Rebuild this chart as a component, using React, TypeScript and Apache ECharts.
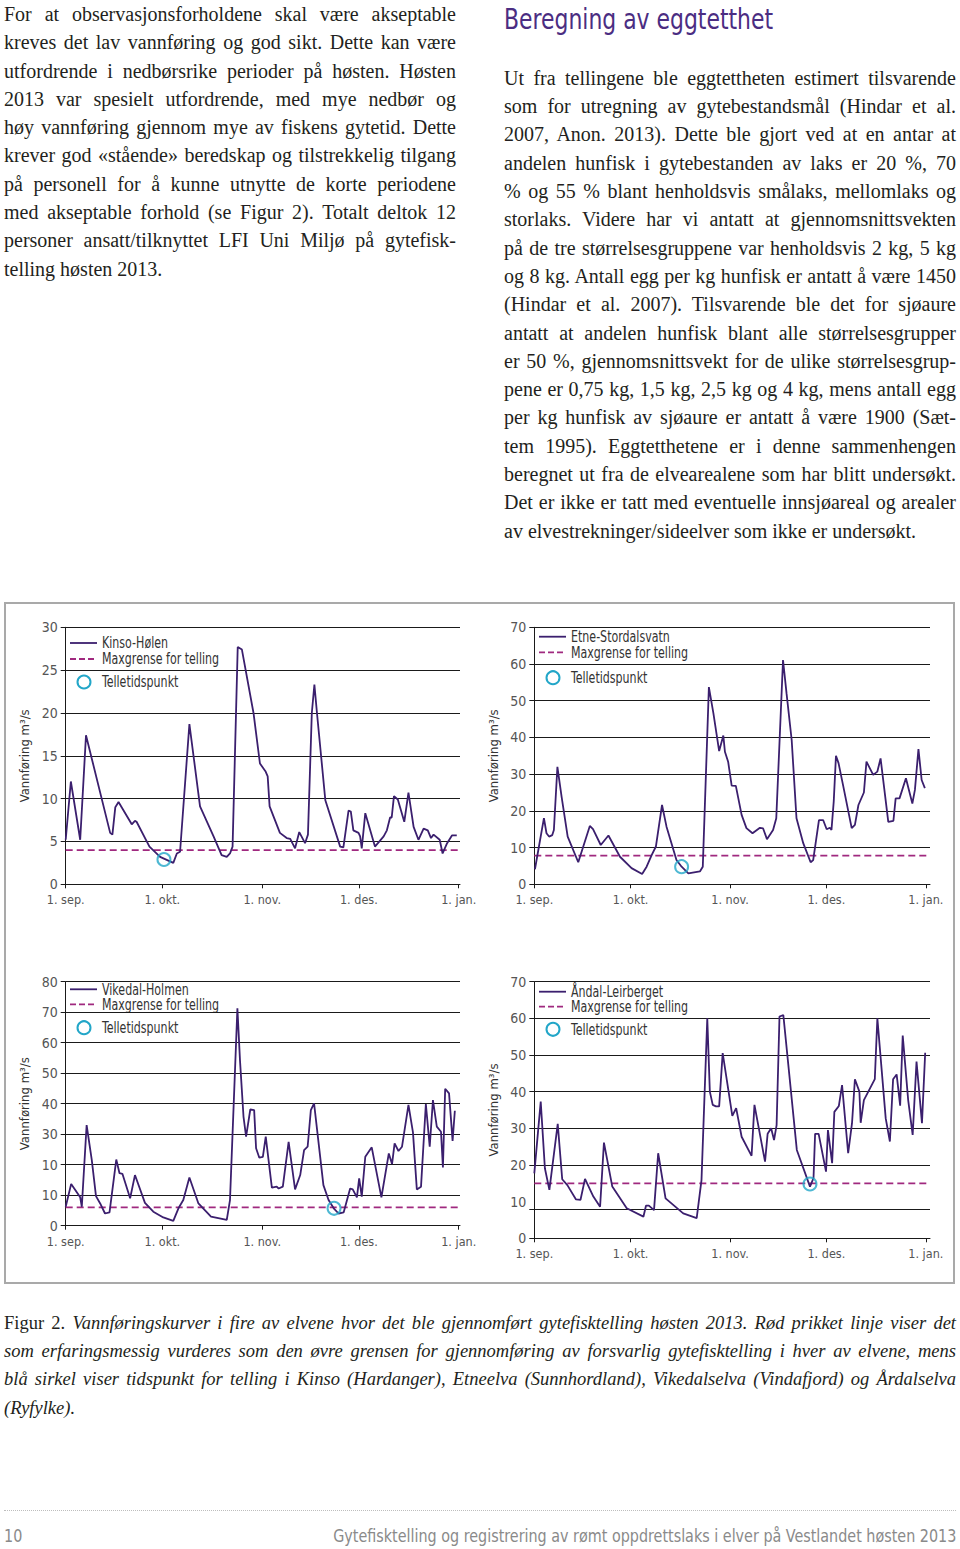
import React, { useEffect, useRef } from "react";
import * as echarts from "echarts";

// ---------- DATA ----------
const monthTickDays = [0, 30, 61, 91, 122];
const monthTickLabels = ["1. sep.", "1. okt.", "1. nov.", "1. des.", "1. jan."];

const riverNames = ["Kinso-Hølen", "Etne-Stordalsvatn", "Vikedal-Holmen", "Åndal-Leirberget"];
const limitName = "Maxgrense for telling";
const countName = "Telletidspunkt";
const yAxisTitle = "Vannføring m³/s";

const limitFlows = [4, 7.8, 6, 15];
const countDays = [30.5, 45.9, 83.3, 85.9];
const countFlows = [2.9, 4.8, 5.7, 14.8];

const kinsoDays = [0, 1.6, 4.5, 6.3, 13.8, 14.5, 15.4, 16.4, 20.5, 21.5, 22, 26, 29.3, 33.4, 34.5, 35.5, 38.4, 41.7, 45.9, 48.4, 50, 51, 51.8, 53.4, 54.7, 58.3, 60.3, 62, 62.7, 63.3, 66.5, 68.6, 69.7, 71.2, 72.5, 74.3, 75.2, 76.4, 77.2, 78, 80.6, 85.2, 86.2, 87.8, 88.5, 89.3, 90.9, 91.4, 91.9, 93, 96, 98.7, 99.7, 100.7, 101.2, 101.9, 103.1, 105.1, 106.4, 108, 109.5, 111.1, 112.4, 113.4, 114.2, 116.1, 117, 118.4, 119.9, 121.4];
const kinsoFlows = [5.2, 12, 5.2, 17.4, 6, 5.8, 9, 9.6, 7, 7.4, 7.3, 4.4, 3.2, 2.5, 3.6, 3.8, 18.7, 9.1, 5.6, 3.4, 3.2, 3.6, 4.4, 27.7, 27.4, 20, 14.1, 13.2, 12.6, 9.1, 6, 5.4, 5.3, 4.2, 6.1, 4.8, 5.8, 20, 23.3, 20, 9.8, 4.4, 4.3, 8.6, 8.5, 6.3, 6, 5.6, 4.2, 8.3, 4.4, 5.6, 6.3, 7.8, 7.8, 10.3, 9.9, 7.3, 10.7, 6.7, 5.2, 6.5, 6.3, 5.4, 5.8, 5.2, 3.6, 4.8, 5.7, 5.7];

const etneDays = [0.2, 3, 3.8, 4.6, 5.6, 6.1, 7.2, 8.5, 10.4, 13.7, 17.3, 18.3, 20.7, 23.1, 26.7, 30.3, 33.6, 35, 36.6, 37.9, 39.8, 41.2, 44.3, 45.9, 48, 51.6, 52.5, 54.4, 55.8, 57.6, 58.9, 59.4, 60.4, 61.5, 62.8, 64.6, 66.1, 68, 70.3, 71.3, 72.5, 74.4, 75.4, 77.5, 78.6, 80.2, 81.7, 83.8, 86.1, 86.9, 88.7, 90, 91.1, 92.1, 92.6, 93.3, 94, 94.8, 96.3, 98.9, 99.9, 101, 102.7, 103.5, 105.6, 106.9, 107.9, 110.3, 111.9, 112.6, 113.8, 115.8, 117.8, 118.6, 119.7, 120.7, 121.7];
const etneFlows = [4.1, 18, 13.9, 13, 13.4, 14.8, 32, 23.9, 13, 6, 15.9, 15, 10.7, 13.3, 7.5, 4.4, 2.8, 4.8, 8, 10.3, 21.6, 15.7, 6.6, 4.8, 3, 3.5, 4.8, 53.7, 46.6, 36.3, 40.5, 36.1, 33.4, 26.9, 26.8, 18.9, 15.3, 13.9, 15.4, 15.2, 12.3, 14.8, 18, 61.1, 52, 39.3, 18, 11.2, 6, 6.6, 17.5, 17.5, 15, 15.4, 14.8, 22.5, 35, 33, 26.6, 15.3, 16.2, 21.6, 25, 33.4, 29.8, 30.7, 34.3, 17, 17.3, 23.4, 23.4, 28.9, 22, 25.7, 36.8, 28.4, 26.2];

const vikedalDays = [0, 1.7, 4.5, 5, 6.5, 8.1, 9.4, 10.7, 12.2, 13.6, 15.7, 16.7, 17.6, 20, 21.5, 24.6, 27.2, 30.3, 33.4, 35, 36.5, 38.4, 41.2, 45.1, 50, 51, 53.3, 54.1, 55.2, 56, 57.3, 58.5, 59.1, 60.1, 61.2, 62.1, 64, 65.5, 66.1, 67.4, 69.2, 71.2, 72.8, 74, 75.1, 76.1, 77.1, 80, 81.6, 83.2, 84.7, 86.3, 88.3, 89.1, 90.4, 91.1, 91.9, 93, 95, 98, 100.3, 101.3, 102.1, 103.3, 104.4, 106.4, 107.8, 109, 110.3, 111.8, 113, 114, 115.2, 116.5, 117.1, 117.8, 119, 120.1, 120.8];
const vikedalFlows = [6.2, 13.7, 9.3, 6.2, 33, 21.5, 9.7, 7.3, 4, 4.4, 21.7, 17.2, 17, 9, 16.6, 7.5, 4.6, 2.7, 1.6, 5.7, 8.4, 15.8, 7.3, 3, 1.9, 8.4, 71.3, 54.3, 35.7, 29.2, 38.1, 37.9, 25.4, 22.3, 22.6, 29.2, 12.5, 12.8, 12.2, 12.8, 27.5, 11.9, 16.6, 24.8, 25.9, 37.9, 40.1, 13.3, 8.4, 5.7, 4, 4.4, 12.2, 11.9, 9.3, 15.5, 9.5, 22.6, 25.7, 9.3, 23.7, 20.2, 27, 24.5, 25.9, 39.6, 30.6, 11.9, 12.8, 39.9, 25.9, 41.2, 32.5, 30.8, 19.1, 44.9, 43.4, 27.8, 37.7];

const andalDays = [0, 2, 3.3, 4.7, 7.3, 8.7, 10.3, 13, 14.4, 15.8, 18.4, 20.5, 21.7, 24.3, 28.8, 34, 34.8, 35.7, 37.3, 38.6, 40.9, 46.4, 50.6, 52.1, 53.9, 54.7, 55.6, 56.6, 57.6, 58.7, 61.7, 62.9, 64.6, 67.7, 68.6, 71.9, 72.7, 73.8, 74.7, 75.5, 76.4, 77.6, 81.8, 85.9, 87, 87.5, 88.6, 90.9, 91.5, 92.8, 93.5, 94.9, 95.9, 97.8, 99, 99.9, 101.3, 101.7, 102.7, 106.1, 106.9, 109.5, 110.8, 111.8, 112.9, 114, 114.8, 116.5, 117.9, 119.1, 120.8, 121.8];
const andalFlows = [17.7, 37.3, 19.1, 13.2, 31.2, 16.1, 14.5, 10.6, 10.5, 16.2, 11.4, 8.6, 26.1, 14.1, 8.2, 5.9, 8.9, 8.9, 7.7, 23.2, 10.9, 6.8, 5.5, 15.9, 60, 40, 36.4, 36, 36, 50.5, 33.4, 35.5, 27.7, 22.5, 36.4, 20.9, 28.5, 30, 26.8, 30.9, 60.5, 60.9, 24.1, 14.1, 16.4, 28.5, 28.5, 18.2, 29.5, 20.5, 34.5, 36.1, 41.8, 23.2, 31.4, 43.4, 40, 31.5, 37.7, 43.4, 60, 32.7, 26.4, 43.4, 44.7, 36.2, 55.3, 37.7, 28.2, 48.2, 31.4, 50.6];

const yMaxes = [30, 70, 80, 70];
const yIntervals = [5, 10, 10, 10];
const kinsoYLabels = ["0", "5", "10", "15", "20", "25", "30"];
const etneYLabels = ["0", "10", "20", "30", "40", "50", "60", "70"];
const vikedalYLabels = ["0", "10", "10", "30", "40", "50", "60", "70", "80"];
const andalYLabels = ["0", "10", "20", "30", "40", "50", "60", "70"];
const andalGridValues = [8, 20, 30, 40, 50, 60, 70];
const andalTickValues = [0, 8, 20, 30, 40, 50, 60, 70];

// ---------- TEXT ----------
const leftLines = [
  "For at observasjonsforholdene skal være akseptable",
  "kreves det lav vannføring og god sikt. Dette kan være",
  "utfordrende i nedbørsrike perioder på høsten. Høsten",
  "2013 var spesielt utfordrende, med mye nedbør og",
  "høy vannføring gjennom mye av fiskens gytetid. Dette",
  "krever god «stående» beredskap og tilstrekkelig tilgang",
  "på personell for å kunne utnytte de korte periodene",
  "med akseptable forhold (se Figur 2). Totalt deltok 12",
  "personer ansatt/tilknyttet LFI Uni Miljø på gytefisk-",
  "telling høsten 2013.",
];
const headingText = "Beregning av eggtetthet";
const rightLines = [
  "Ut fra tellingene ble eggtettheten estimert tilsvarende",
  "som for utregning av gytebestandsmål (Hindar et al.",
  "2007, Anon. 2013). Dette ble gjort ved at en antar at",
  "andelen hunfisk i gytebestanden av laks er 20 %, 70",
  "% og 55 % blant henholdsvis smålaks, mellomlaks og",
  "storlaks. Videre har vi antatt at gjennomsnittsvekten",
  "på de tre størrelsesgruppene var henholdsvis 2 kg, 5 kg",
  "og 8 kg. Antall egg per kg hunfisk er antatt å være 1450",
  "(Hindar et al. 2007). Tilsvarende ble det for sjøaure",
  "antatt at andelen hunfisk blant alle størrelsesgrupper",
  "er 50 %, gjennomsnittsvekt for de ulike størrelsesgrup-",
  "pene er 0,75 kg, 1,5 kg, 2,5 kg og 4 kg, mens antall egg",
  "per kg hunfisk av sjøaure er antatt å være 1900 (Sæt-",
  "tem 1995). Eggtetthetene er i denne sammenhengen",
  "beregnet ut fra de elvearealene som har blitt undersøkt.",
  "Det er ikke er tatt med eventuelle innsjøareal og arealer",
  "av elvestrekninger/sideelver som ikke er undersøkt.",
];
const captionLabel = "Figur 2.";
const captionLines = [
  "Vannføringskurver i fire av elvene hvor det ble gjennomført gytefisktelling høsten 2013. Rød prikket linje viser det",
  "som erfaringsmessig vurderes som den øvre grensen for gjennomføring av forsvarlig gytefisktelling i hver av elvene, mens",
  "blå sirkel viser tidspunkt for telling i Kinso (Hardanger), Etneelva (Sunnhordland), Vikedalselva (Vindafjord) og Årdalselva",
  "(Ryfylke).",
];
const pageNumber = "10";
const footerTitle = "Gytefisktelling og registrering av rømt oppdrettslaks i elver på Vestlandet høsten 2013";

// ---------- STYLE / LAYOUT ----------
const FONT_SANS = "'Liberation Sans Narrow', 'DejaVu Sans Condensed', 'Roboto Condensed', Roboto, sans-serif";
const FONT_SERIF = "'Liberation Serif', 'DejaVu Serif', serif";
const LINE_COLOR = "#3b1f6e";
const LIMIT_COLOR = "#a0297f";
const COUNT_COLOR = "#22a6c8";
const GRID_COLOR = "#1a1a1a";
const CHART_TOP = 590;

const panels = [
  { left: 65.7, top: 627.3, width: 394.3, height: 257, xMax: 122.4, lx: 70, l1: 643, l2: 659, l3: 682, nameGap: 35 },
  { left: 534.3, top: 627.3, width: 395.7, height: 257, xMax: 123.3, lx: 539, l1: 636.7, l2: 652.3, l3: 677.7, nameGap: 34 },
  { left: 65.7, top: 981.7, width: 394.3, height: 244, xMax: 122.4, lx: 70, l1: 989.3, l2: 1004.3, l3: 1027.7, nameGap: 35 },
  { left: 534.3, top: 981.7, width: 395.7, height: 256.6, xMax: 123.3, lx: 539, l1: 991.7, l2: 1006.7, l3: 1029.3, nameGap: 34 },
];

function buildOption() {
  const daysList = [kinsoDays, etneDays, vikedalDays, andalDays];
  const flowsList = [kinsoFlows, etneFlows, vikedalFlows, andalFlows];
  const yLabelsList = [kinsoYLabels, etneYLabels, vikedalYLabels, andalYLabels];

  const grid = panels.map((p) => ({
    left: p.left,
    top: p.top - CHART_TOP,
    width: p.width,
    height: p.height,
    containLabel: false,
  }));

  const xAxis = panels.map((p, i) => ({
    type: "value",
    gridIndex: i,
    min: 0,
    max: p.xMax,
    axisLine: { show: true, onZero: false, lineStyle: { color: GRID_COLOR, width: 1 } },
    axisTick: { show: true, customValues: monthTickDays, length: 4, lineStyle: { color: GRID_COLOR } },
    axisLabel: {
      customValues: monthTickDays,
      formatter: (v: number) => {
        const k = monthTickDays.findIndex((d) => Math.abs(d - v) < 0.01);
        return k >= 0 ? monthTickLabels[k] : "";
      },
      color: "#555",
      fontSize: 12.5,
      fontFamily: FONT_SANS,
      margin: 9,
    },
    splitLine: { show: false },
  }));

  const yAxis = panels.map((p, i) => ({
    type: "value",
    gridIndex: i,
    min: 0,
    max: yMaxes[i],
    interval: yIntervals[i],
    name: yAxisTitle,
    nameLocation: "middle",
    nameRotate: 90,
    nameGap: p.nameGap,
    nameTextStyle: { color: "#333", fontSize: 13, fontFamily: FONT_SANS },
    axisLine: { show: true, lineStyle: { color: GRID_COLOR, width: 1 } },
    axisTick: {
      show: true,
      length: 5,
      lineStyle: { color: GRID_COLOR },
      ...(i === 3 ? { customValues: andalTickValues } : {}),
    },
    axisLabel: {
      color: "#555",
      fontSize: 14,
      fontFamily: FONT_SANS,
      margin: 8,
      formatter: (v: number) => {
        const lab = yLabelsList[i][Math.round(v / yIntervals[i])];
        return lab === undefined ? "" : lab;
      },
    },
    splitLine: { show: i !== 3, lineStyle: { color: GRID_COLOR, width: 1 } },
  }));

  const series: any[] = [];
  panels.forEach((p, i) => {
    series.push({
      type: "line",
      name: riverNames[i],
      xAxisIndex: i,
      yAxisIndex: i,
      data: daysList[i].map((d, k) => [d, flowsList[i][k]]),
      symbol: "none",
      lineStyle: { color: LINE_COLOR, width: 1.8 },
      z: 10,
      silent: true,
      ...(i === 3
        ? {
            markLine: {
              silent: true,
              symbol: ["none", "none"],
              label: { show: false },
              lineStyle: { type: "solid", color: GRID_COLOR, width: 1 },
              data: andalGridValues.map((v) => ({ yAxis: v })),
              z: 1,
            },
          }
        : {}),
    });
    series.push({
      type: "line",
      name: limitName,
      xAxisIndex: i,
      yAxisIndex: i,
      data: [
        [0, limitFlows[i]],
        [p.xMax, limitFlows[i]],
      ],
      symbol: "none",
      lineStyle: { color: LIMIT_COLOR, width: 1.8, type: [7, 4] },
      z: 9,
      silent: true,
    });
    series.push({
      type: "scatter",
      name: countName,
      xAxisIndex: i,
      yAxisIndex: i,
      data: [[countDays[i], countFlows[i]]],
      symbol: "circle",
      symbolSize: 13,
      itemStyle: { color: "rgba(0,0,0,0)", borderColor: COUNT_COLOR, borderWidth: 2 },
      z: 11,
      silent: true,
    });
  });

  const graphic: any[] = [];
  const textStyle = { fill: "#333", fontSize: 15, fontFamily: FONT_SANS, verticalAlign: "middle" };
  panels.forEach((p, i) => {
    const y1 = p.l1 - CHART_TOP;
    const y2 = p.l2 - CHART_TOP;
    const y3 = p.l3 - CHART_TOP;
    const tx = p.lx + 32;
    graphic.push(
      { type: "line", silent: true, shape: { x1: p.lx, y1, x2: p.lx + 27, y2: y1 }, style: { stroke: LINE_COLOR, lineWidth: 1.8 } },
      { type: "line", silent: true, shape: { x1: p.lx, y1: y2, x2: p.lx + 27, y2 }, style: { stroke: LIMIT_COLOR, lineWidth: 1.8, lineDash: [6, 3] } },
      { type: "circle", silent: true, shape: { cx: p.lx + 14, cy: y3, r: 6.5 }, style: { stroke: COUNT_COLOR, fill: "none", lineWidth: 2 } },
      { type: "text", silent: true, x: tx, y: y1, scaleX: 0.82, style: { ...textStyle, text: riverNames[i] } },
      { type: "text", silent: true, x: tx, y: y2, scaleX: 0.82, style: { ...textStyle, text: limitName } },
      { type: "text", silent: true, x: tx, y: y3, scaleX: 0.82, style: { ...textStyle, text: countName } }
    );
  });

  return { animation: false, grid, xAxis, yAxis, series, graphic };
}

function Figure() {
  const ref = useRef<HTMLDivElement>(null);
  useEffect(() => {
    const chart = echarts.init(ref.current as HTMLDivElement, undefined, { renderer: "svg" });
    chart.setOption(buildOption() as any);
    return () => chart.dispose();
  }, []);
  return (
    <div
      ref={ref}
      style={{ position: "absolute", left: 0, top: CHART_TOP, width: 960, height: 710 }}
    />
  );
}

const LINE_H = 28.3;

function JustifiedBlock({
  lines,
  left,
  top,
  width,
  fontSize,
  italic,
  prefix,
}: {
  lines: string[];
  left: number;
  top: number;
  width: number;
  fontSize: number;
  italic?: boolean;
  prefix?: string;
}) {
  return (
    <div
      style={{
        position: "absolute",
        left,
        top,
        width,
        fontFamily: FONT_SERIF,
        fontSize,
        lineHeight: `${LINE_H}px`,
        color: "#231f20",
      }}
    >
      {lines.map((ln, k) => {
        const last = k === lines.length - 1;
        return (
          <div
            key={k}
            style={{
              height: LINE_H,
              textAlign: last ? "left" : "justify",
              textAlignLast: last ? "left" : "justify",
              whiteSpace: "normal",
            } as any}
          >
            {k === 0 && prefix ? <span style={{ fontStyle: "normal" }}>{prefix} </span> : null}
            <span style={{ fontStyle: italic ? "italic" : "normal" }}>{ln}</span>
          </div>
        );
      })}
    </div>
  );
}

export default function App() {
  return (
    <div style={{ position: "absolute", left: 0, top: 0, width: 960, height: 1549, background: "#fff", overflow: "hidden" }}>
      <JustifiedBlock lines={leftLines} left={4} top={0} width={452} fontSize={20} />
      <div
        style={{
          position: "absolute",
          left: 504,
          top: 0,
          lineHeight: "38px",
          fontSize: 29,
          fontFamily: FONT_SANS,
          color: "#4b2d82",
          whiteSpace: "nowrap",
          transform: "scaleX(0.84)",
          transformOrigin: "left center",
        }}
      >
        {headingText}
      </div>
      <JustifiedBlock lines={rightLines} left={504} top={63.9} width={452} fontSize={20} />

      <div
        style={{
          position: "absolute",
          left: 4,
          top: 602,
          width: 951,
          height: 682,
          boxSizing: "border-box",
          border: "2px solid #a9a9a9",
        }}
      />
      <Figure />

      <JustifiedBlock lines={captionLines} left={4} top={1308.8} width={952} fontSize={18.5} italic prefix={captionLabel} />

      <div style={{ position: "absolute", left: 4, top: 1510, width: 952, borderTop: "1px dotted #bdbdbd" }} />
      <div
        style={{
          position: "absolute",
          left: 4,
          top: 1524,
          lineHeight: "24px",
          fontSize: 18,
          fontFamily: FONT_SANS,
          color: "#8a8a8a",
          transform: "scaleX(0.886)",
          transformOrigin: "left center",
        }}
      >
        {pageNumber}
      </div>
      <div
        style={{
          position: "absolute",
          right: 4,
          top: 1524,
          lineHeight: "24px",
          fontSize: 18,
          fontFamily: FONT_SANS,
          color: "#8a8a8a",
          whiteSpace: "nowrap",
          transform: "scaleX(0.886)",
          transformOrigin: "right center",
        }}
      >
        {footerTitle}
      </div>
    </div>
  );
}
